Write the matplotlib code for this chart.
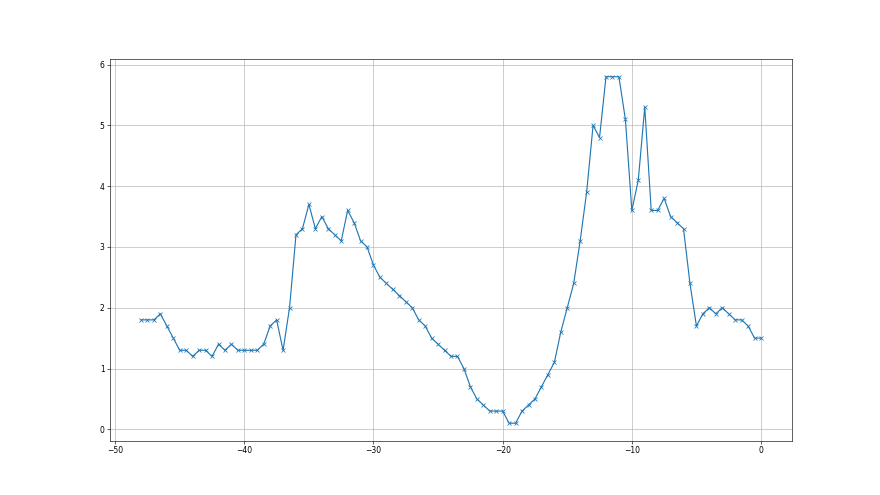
import matplotlib
matplotlib.use('Agg')
import matplotlib.pyplot as plt
import numpy as np

# sample positions, every half step from -48 to 0
x_vals = np.arange(-48, 0.5, 0.5)

y_vals = [
    1.8, 1.8, 1.8, 1.9, 1.7, 1.5, 1.3, 1.3, 1.2, 1.3,
    1.3, 1.2, 1.4, 1.3, 1.4, 1.3, 1.3, 1.3, 1.3, 1.4,
    1.7, 1.8, 1.3, 2.0, 3.2, 3.3, 3.7, 3.3, 3.5, 3.3,
    3.2, 3.1, 3.6, 3.4, 3.1, 3.0, 2.7, 2.5, 2.4, 2.3,
    2.2, 2.1, 2.0, 1.8, 1.7, 1.5, 1.4, 1.3, 1.2, 1.2,
    1.0, 0.7, 0.5, 0.4, 0.3, 0.3, 0.3, 0.1, 0.1, 0.3,
    0.4, 0.5, 0.7, 0.9, 1.1, 1.6, 2.0, 2.4, 3.1, 3.9,
    5.0, 4.8, 5.8, 5.8, 5.8, 5.1, 3.6, 4.1, 5.3, 3.6,
    3.6, 3.8, 3.5, 3.4, 3.3, 2.4, 1.7, 1.9, 2.0, 1.9,
    2.0, 1.9, 1.8, 1.8, 1.7, 1.5, 1.5,
]

fig = plt.figure(figsize=(16, 9), dpi=55)
plt.plot(x_vals, y_vals, marker='x')
plt.grid(True)
plt.savefig('out.png', dpi=55)
